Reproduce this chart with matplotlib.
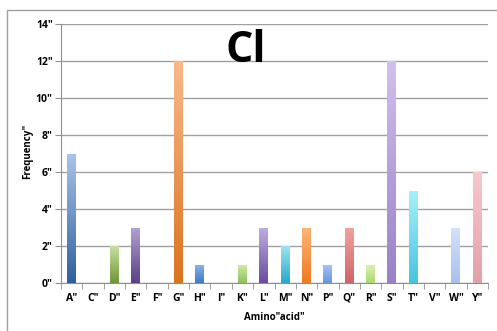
import numpy as np
import matplotlib.pyplot as plt
from matplotlib.colors import LinearSegmentedColormap
from matplotlib.patches import Rectangle

amino = ['A', 'C', 'D', 'E', 'F', 'G', 'H', 'I', 'K', 'L',
         'M', 'N', 'P', 'Q', 'R', 'S', 'T', 'V', 'W', 'Y']
freq = [7, 0, 2, 3, 0, 12, 1, 0, 1, 3,
        2, 3, 1, 3, 1, 12, 5, 0, 3, 6]
# (top colour, bottom colour) for each bar gradient
top_colors = ['#a9c4ea', '#e8a6a4', '#c8e0a0', '#b5a2d2', '#9fdcec', '#f8b98a',
              '#8fb4ec', '#eeb0ae', '#d2eca8', '#c0aee0', '#9ee4f2', '#fbb67a',
              '#a8c4f0', '#f2a2a2', '#def2b8', '#d2c0ec', '#a8f0fc', '#fcc89a',
              '#d4e2fa', '#f8c8cc']
bot_colors = ['#2f5f9e', '#a8413e', '#6e9636', '#5a3f86', '#2b94ae', '#d9731f',
              '#3f78c8', '#c2605c', '#8cc05a', '#6a4aa0', '#28a8c8', '#f07a20',
              '#6a94dc', '#d06468', '#a8d870', '#9a80c8', '#48c4e0', '#f0a060',
              '#a8c0ec', '#e4a0a8']
yticks = [0, 2, 4, 6, 8, 10, 12, 14]

fig = plt.figure(figsize=(4.97, 3.31), dpi=100)
fig.patches.append(Rectangle((7 / 497, -0.1), 1.2, (331 - 10) / 331 + 0.1,
                             transform=fig.transFigure, fill=False,
                             edgecolor='#a0a0a0', linewidth=1.0))
ax = fig.add_axes([61 / 497, (331 - 283) / 331, 427 / 497, 259 / 331])

x = np.arange(len(amino))
bars = ax.bar(x, freq, width=0.42, color='none', zorder=3)
grad = np.linspace(0, 1, 256).reshape(-1, 1)
for b, ct, cb in zip(bars, top_colors, bot_colors):
    h = b.get_height()
    if h == 0:
        continue
    cmap = LinearSegmentedColormap.from_list('g', [cb, ct])
    x0 = b.get_x()
    im = ax.imshow(grad, cmap=cmap, origin='lower', aspect='auto',
                   extent=[x0, x0 + b.get_width(), 0, h], zorder=3)
    im.set_clip_path(b)

ax.set_xlim(-0.5, len(amino) - 0.5)
ax.set_ylim(0, 14)
ax.set_yticks(yticks)
ax.set_yticklabels([f'{t}"' for t in yticks])
ax.set_xticks(x)
ax.set_xticklabels([f'{a}"' for a in amino])
ax.set_xticks(np.arange(-0.5, len(amino)), minor=True)
ax.tick_params(axis='x', which='major', length=0, pad=7)
ax.tick_params(axis='x', which='minor', length=4, color='#909090')
ax.tick_params(axis='y', length=4, color='#909090', pad=2)
for lab in ax.get_xticklabels() + ax.get_yticklabels():
    lab.set_fontsize(7.5)
    lab.set_fontweight('bold')
    lab.set_fontfamily('Open Sans')

ax.grid(axis='y', color='#a0a0a0', linewidth=1.0, zorder=0)
ax.set_axisbelow(True)
for s in ['top', 'right']:
    ax.spines[s].set_visible(False)
ax.spines['left'].set_color('#909090')
ax.spines['bottom'].set_color('#909090')

ax.set_ylabel('Frequency"', fontsize=7, fontweight='bold', fontfamily='Open Sans', labelpad=0)
ax.set_xlabel('Amino"acid"', fontsize=7, fontweight='bold', fontfamily='Open Sans', labelpad=6)
ax.yaxis.set_label_coords(-28 / 427, 0.51)

fig.text(246 / 497, 1 - 51 / 331, 'Cl', fontsize=31, fontweight='bold',
         fontfamily='Open Sans', ha='center', va='center', zorder=5)

fig.savefig('out.png', dpi=100)
